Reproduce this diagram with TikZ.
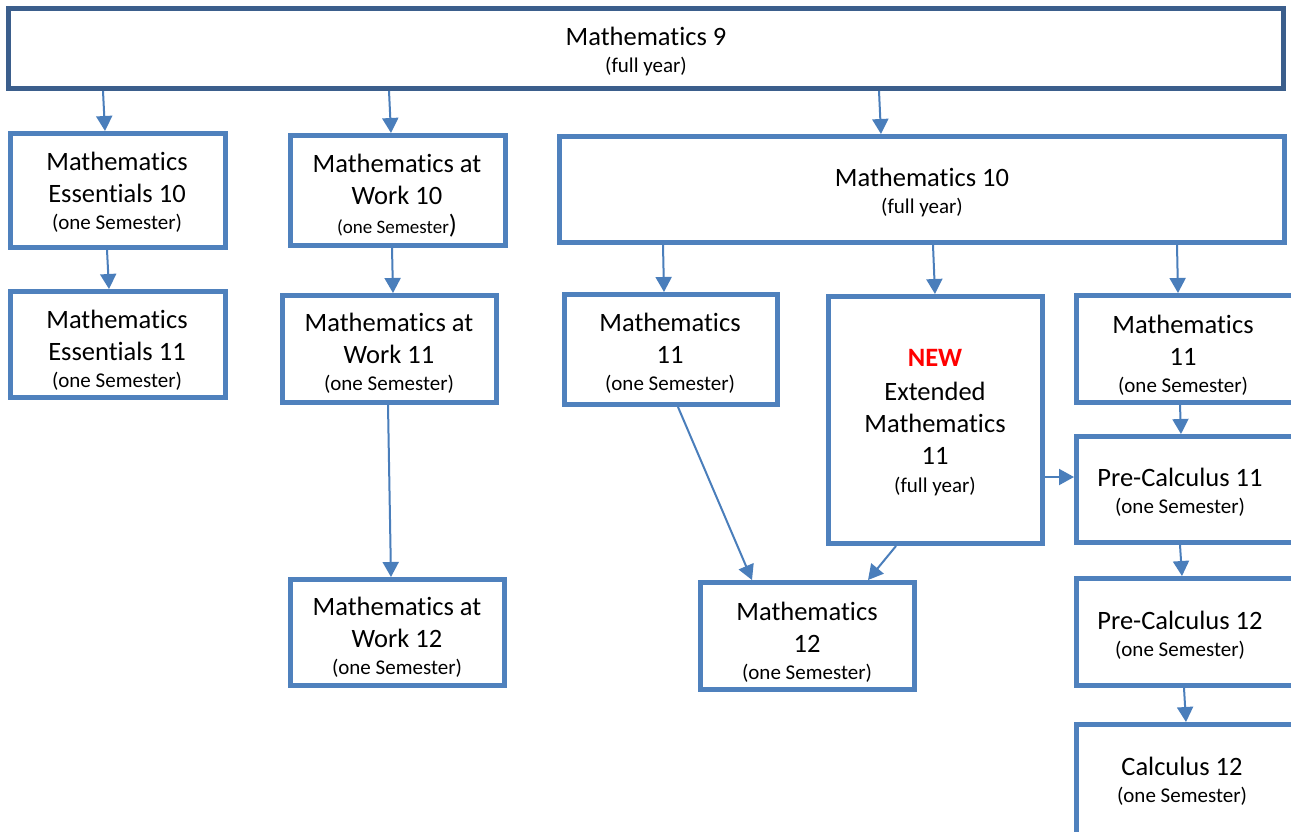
\documentclass[tikz,border=0pt]{standalone}
\usepackage{fontspec}
\setmainfont{Carlito}[Ligatures={NoCommon}]
\usetikzlibrary{arrows.meta}
\definecolor{boxblue}{HTML}{4F81BD}
\definecolor{topblue}{HTML}{3B5E8C}
\definecolor{arrowblue}{HTML}{4A7EBB}
\definecolor{newred}{HTML}{FF0000}
\newcommand\smalltxt[1]{{\fontsize{21}{27}\selectfont #1}}
\tikzset{
  box/.style={draw=boxblue, line width=5pt, inner sep=0pt, fill=none},
  topbox/.style={draw=topblue, line width=5pt, inner sep=0pt},
  txt/.style={align=center, inner sep=0pt, font=\fontsize{26.5}{32}\selectfont},
  arr/.style={draw=arrowblue, line width=2pt, -{Triangle[length=15pt,width=16pt]}}
}
\begin{document}
\begin{tikzpicture}[x=1pt,y=-1pt]
\useasboundingbox[fill=white] (0,0) rectangle (1291,831);
\clip (0,0) rectangle (1291,831);
% texts
\node[txt] (m9t) at (646,51) {Mathematics 9\\[-5pt]\smalltxt{(full year)}};
\node[txt] (ess10t) at (117,192.5) {Mathematics\\Essentials 10\\[-5pt]\smalltxt{(one Semester)}};
\node[txt] (ess11t) at (117,350.5) {Mathematics\\Essentials 11\\[-5pt]\smalltxt{(one Semester)}};
\node[txt] (work10t) at (397,195.5) {Mathematics at\\Work 10\\[-3pt]{\fontsize{19}{24}\selectfont(one Semester})};
\node[txt] (work11t) at (389,353) {Mathematics at\\Work 11\\[-5pt]\smalltxt{(one Semester)}};
\node[txt] (work12t) at (397,637.5) {Mathematics at\\Work 12\\[-5pt]\smalltxt{(one Semester)}};
\node[txt] (m10t) at (922,192.5) {Mathematics 10\\[-5pt]\smalltxt{(full year)}};
\node[txt] (m11at) at (670,353) {Mathematics\\11\\[-5pt]\smalltxt{(one Semester)}};
\node[txt] (ext11t) at (935,423) {\textbf{\textcolor{newred}{NEW}}\\[2pt]Extended\\Mathematics\\11\\[-4pt]\smalltxt{(full year)}};
\node[txt] (m11bt) at (1183,355) {Mathematics\\11\\[-5pt]\smalltxt{(one Semester)}};
\node[txt] (pc11t) at (1180,492) {Pre-Calculus 11\\[-5pt]\smalltxt{(one Semester)}};
\node[txt] (pc12t) at (1180,635.5) {Pre-Calculus 12\\[-5pt]\smalltxt{(one Semester)}};
\node[txt] (calc12t) at (1182,781) {Calculus 12\\[-5pt]\smalltxt{(one Semester)}};
\node[txt] (m12t) at (807,642.5) {Mathematics\\12\\[-5pt]\smalltxt{(one Semester)}};
% boxes
\node[topbox, minimum width=1275pt, minimum height=80pt] (m9) at (646,48.5) {};
\node[box, minimum width=215pt, minimum height=114pt] (ess10) at (118,190.5) {};
\node[box, minimum width=215pt, minimum height=106pt] (ess11) at (118,344.5) {};
\node[box, minimum width=215pt, minimum height=110pt] (work10) at (398,190.5) {};
\node[box, minimum width=214pt, minimum height=107pt] (work11) at (389.5,349) {};
\node[box, minimum width=214pt, minimum height=106pt] (work12) at (397.5,632.5) {};
\node[box, minimum width=725pt, minimum height=106pt] (m10) at (922,189.5) {};
\node[box, minimum width=213pt, minimum height=110pt] (m11a) at (671,349.5) {};
\node[box, minimum width=214pt, minimum height=247pt] (ext11) at (935.5,420) {};
\node[box, minimum width=217pt, minimum height=107pt] (m11b) at (1185,349) {};
\node[box, minimum width=217pt, minimum height=106pt] (pc11) at (1185,489.5) {};
\node[box, minimum width=217pt, minimum height=107pt] (pc12) at (1185,632) {};
\node[box, minimum width=217pt, minimum height=113pt] (calc12) at (1185,781) {};
\node[box, minimum width=214pt, minimum height=107pt] (m12) at (807.5,636) {};
% arrows
\draw[arr] ([xshift=-543pt]m9.south) -- ([xshift=-13pt]ess10.north);
\draw[arr] ([xshift=-257pt]m9.south) -- ([xshift=-7pt]work10.north);
\draw[arr] ([xshift=233pt]m9.south) -- ([xshift=-41pt]m10.north);
\draw[arr] ([xshift=-11pt]ess10.south) -- ([xshift=-9pt]ess11.north);
\draw[arr] ([xshift=-6pt]work10.south) -- ([xshift=3.5pt]work11.north);
\draw[arr] ([xshift=-1.5pt]work11.south) -- ([xshift=-6.5pt]work12.north);
\draw[arr] ([xshift=-259pt]m10.south) -- ([xshift=-7pt]m11a.north);
\draw[arr] ([xshift=11pt]m10.south) -- ([xshift=-0.5pt]ext11.north);
\draw[arr] ([xshift=255pt]m10.south) -- ([xshift=-7pt]m11b.north);
\draw[arr] ([xshift=-5pt]m11b.south) -- ([xshift=-4pt]pc11.north);
\draw[arr] ([yshift=-57pt]ext11.east) -- ([yshift=12.5pt]pc11.west);
\draw[arr] ([xshift=7pt]m11a.south) -- ([xshift=-55.5pt]m12.north);
\draw[arr] ([xshift=-39.5pt]ext11.south) -- ([xshift=60.5pt]m12.north);
\draw[arr] ([xshift=-5pt]pc11.south) -- ([xshift=-3pt]pc12.north);
\draw[arr] ([xshift=-1pt]pc12.south) -- ([xshift=1pt]calc12.north);
\end{tikzpicture}
\end{document}
